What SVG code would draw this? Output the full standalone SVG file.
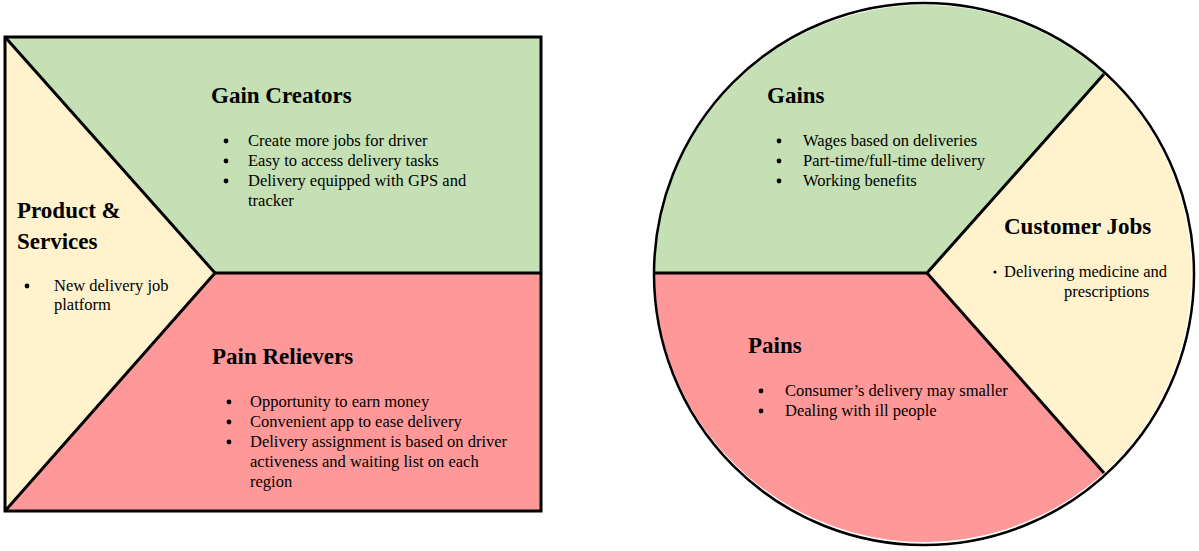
<svg xmlns="http://www.w3.org/2000/svg" width="1199" height="551" viewBox="0 0 1199 551">
<style>
.h{font-family:"Liberation Serif","Times New Roman","DejaVu Serif",serif;font-weight:bold;font-size:23px;fill:#000}
.t{font-family:"Liberation Serif","Times New Roman","DejaVu Serif",serif;font-size:16.5px;fill:#000}
.dot{fill:#000}
.green{fill:#C5E0B4}
.yellow{fill:#FFF2CC}
.red{fill:#FF9999}
.ln{stroke:#000;stroke-width:3;fill:none;stroke-linejoin:miter}
</style>
<rect width="1199" height="551" fill="#fff"/>
<g id="product-services">
<polygon class="yellow" points="5,37 215,273 5,511"/>
<text class="h" x="17" y="218">Product &amp;</text>
<text class="h" x="17" y="249">Services</text>
<circle class="dot" cx="27" cy="286" r="2.4"/>
<text class="t" x="54" y="291">New delivery job</text>
<text class="t" x="54" y="310">platform</text>
</g>
<g id="gain-creators">
<polygon class="green" points="5,37 541,37 541,273 215,273"/>
<text class="h" x="211" y="103">Gain Creators</text>
<circle class="dot" cx="226" cy="141" r="2.4"/>
<text class="t" x="248" y="146">Create more jobs for driver</text>
<circle class="dot" cx="226" cy="161" r="2.4"/>
<text class="t" x="248" y="166">Easy to access delivery tasks</text>
<circle class="dot" cx="226" cy="181" r="2.4"/>
<text class="t" x="248" y="186">Delivery equipped with GPS and</text>
<text class="t" x="248" y="206">tracker</text>
</g>
<g id="pain-relievers">
<polygon class="red" points="215,273 541,273 541,511 5,511"/>
<text class="h" x="212" y="364">Pain Relievers</text>
<circle class="dot" cx="229" cy="402" r="2.4"/>
<text class="t" x="250" y="407">Opportunity to earn money</text>
<circle class="dot" cx="229" cy="422" r="2.4"/>
<text class="t" x="250" y="427">Convenient app to ease delivery</text>
<circle class="dot" cx="229" cy="442" r="2.4"/>
<text class="t" x="250" y="447">Delivery assignment is based on driver</text>
<text class="t" x="250" y="467">activeness and waiting list on each</text>
<text class="t" x="250" y="487">region</text>
</g>
<g id="gains">
<path class="green" d="M927,273 L654,273 A270,271 0 0 1 1104,74 Z"/>
<text class="h" x="767" y="103">Gains</text>
<circle class="dot" cx="779" cy="141" r="2.4"/>
<text class="t" x="803" y="146">Wages based on deliveries</text>
<circle class="dot" cx="779" cy="161" r="2.4"/>
<text class="t" x="803" y="166">Part-time/full-time delivery</text>
<circle class="dot" cx="779" cy="181" r="2.4"/>
<text class="t" x="803" y="186">Working benefits</text>
</g>
<g id="customer-jobs">
<path class="yellow" d="M927,273 L1104,74 A270,271 0 0 1 1104,473 Z"/>
<text class="h" x="1004" y="234">Customer Jobs</text>
<circle class="dot" cx="995" cy="272" r="1.6"/>
<text class="t" x="1004" y="277">Delivering medicine and</text>
<text class="t" x="1064" y="297">prescriptions</text>
</g>
<g id="pains">
<path class="red" d="M927,273 L1104,473 A270,271 0 0 1 654,273 Z"/>
<text class="h" x="748" y="353">Pains</text>
<circle class="dot" cx="761" cy="391" r="2.4"/>
<text class="t" x="785" y="396">Consumer’s delivery may smaller</text>
<circle class="dot" cx="761" cy="411" r="2.4"/>
<text class="t" x="785" y="416">Dealing with ill people</text>
</g>
<g id="connectors">
<rect class="ln" x="5" y="37" width="536" height="474"/>
<polyline class="ln" points="5,37 215,273 5,511"/>
<line class="ln" x1="215" y1="273" x2="541" y2="273"/>
<polyline class="ln" points="654,273 927,273 1104,74"/>
<line class="ln" x1="927" y1="273" x2="1104" y2="473"/>
<ellipse class="ln" cx="924" cy="274" rx="270" ry="271" style="stroke-width:2.5"/>
</g>
</svg>
